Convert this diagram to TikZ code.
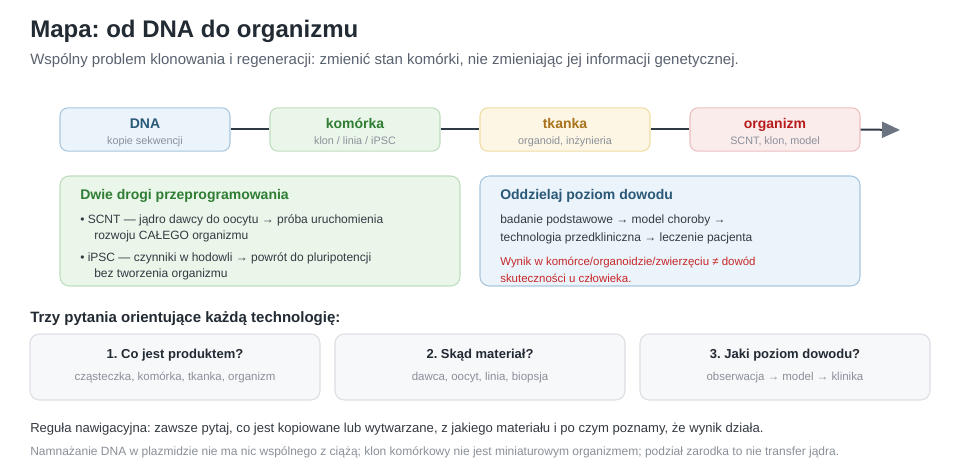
\documentclass[tikz,border=0pt]{standalone}
\usepackage{fontspec}
\setmainfont{Liberation Sans}
\usetikzlibrary{arrows.meta}
\frenchspacing
\definecolor{ink}{HTML}{222A33}
\definecolor{sub}{HTML}{5A6270}
\definecolor{mut}{HTML}{8A9099}
\definecolor{body}{HTML}{333A42}
\definecolor{line}{HTML}{2F3A45}
\definecolor{arr}{HTML}{6B7480}
\definecolor{bF}{HTML}{EBF3FB}\definecolor{bD}{HTML}{A9C7DE}\definecolor{bT}{HTML}{2A5877}
\definecolor{gF}{HTML}{EBF6EB}\definecolor{gD}{HTML}{BFDDBF}\definecolor{gT}{HTML}{2E7D32}
\definecolor{yF}{HTML}{FDF6E4}\definecolor{yD}{HTML}{F0DDA4}\definecolor{yT}{HTML}{A8731C}
\definecolor{rF}{HTML}{FBECEC}\definecolor{rD}{HTML}{EDBFBF}\definecolor{rT}{HTML}{B71C1C}
\definecolor{red2}{HTML}{C62828}
\definecolor{qF}{HTML}{F7F8FA}\definecolor{qD}{HTML}{DCDFE4}
\tikzset{
  x=0.75pt, y=-0.75pt,
  topbox/.style={draw, line width=0.8pt, rounded corners=6pt, minimum width=127.5pt, minimum height=32.5pt, inner sep=0pt},
  midbox/.style={draw, line width=0.8pt, rounded corners=7pt, minimum height=82.5pt, inner sep=0pt},
  qbox/.style={draw=qD, fill=qF, line width=0.8pt, rounded corners=7pt, minimum width=217.5pt, minimum height=49.5pt, inner sep=0pt},
  txt/.style={inner sep=0pt, anchor=base west},
  ctxt/.style={inner sep=0pt, anchor=base},
  conn/.style={draw=line, line width=1.5pt},
}
\begin{document}
\begin{tikzpicture}
\useasboundingbox[fill=white] (0,0) rectangle (960,470);
% title
\node[txt, text=ink, font=\fontsize{18}{22}\selectfont\bfseries] (title) at (30,38) {Mapa: od DNA do organizmu};
\node[txt, text=sub, font=\fontsize{11.25}{13}\selectfont] (subt) at (30,65) {Wspólny problem klonowania i regeneracji: zmienić stan komórki, nie zmieniając jej informacji genetycznej.};
% top chain
\node[topbox, fill=bF, draw=bD] (dna) at (145,129.5) {};
\node[topbox, fill=gF, draw=gD] (kom) at (355,129.5) {};
\node[topbox, fill=yF, draw=yD] (tka) at (565,129.5) {};
\node[topbox, fill=rF, draw=rD] (org) at (775,129.5) {};
\coordinate (end) at (900,130);
\draw[conn] (dna.east) -- (kom.west);
\draw[conn] (kom.east) -- (tka.west);
\draw[conn] (tka.east) -- (org.west);
\draw[conn, -{Triangle[length=13.5pt,width=12pt,color=arr]}] (org.east) -- (end);
\foreach \n/\t/\s/\c in {dna/DNA/{kopie sekwencji}/bT, kom/komórka/{klon / linia / iPSC}/gT, tka/tkanka/{organoid, inżynieria}/yT, org/organizm/{SCNT, klon, model}/rT}{
  \node[ctxt, text=\c, font=\fontsize{10.5}{12}\selectfont\bfseries] at (\n.center |- 0,128.5) {\t};
  \node[ctxt, text=mut, font=\fontsize{8.1}{10}\selectfont] at (\n.center |- 0,145) {\s};
}
% middle boxes
\node[midbox, fill=gF, draw=gD, minimum width=300pt] (left) at (260,231) {};
\node[midbox, fill=bF, draw=bD, minimum width=285pt] (right) at (670,231) {};
\node[txt, text=gT, font=\fontsize{10.5}{12}\selectfont\bfseries] (lt) at (80,200) {Dwie drogi przeprogramowania};
\begin{scope}[every node/.style={txt, text=body, font=\fontsize{9}{11}\selectfont}]
\node (l1) at (80,224) {• SCNT — jądro dawcy do oocytu → próba uruchomienia};
\node (l2) at (94,240) {rozwoju CAŁEGO organizmu};
\node (l3) at (80,262) {• iPSC — czynniki w hodowli → powrót do pluripotencji};
\node (l4) at (94,278) {bez tworzenia organizmu};
\node (r1) at (500,224) {badanie podstawowe → model choroby →};
\node (r2) at (500,242) {technologia przedkliniczna → leczenie pacjenta};
\end{scope}
\node[txt, text=bT, font=\fontsize{10.5}{12}\selectfont\bfseries] (rt) at (500,200) {Oddzielaj poziom dowodu};
\node[txt, text=red2, font=\fontsize{8.6}{10}\selectfont] (r3) at (500,266) {Wynik w komórce/organoidzie/zwierzęciu ≠ dowód};
\node[txt, text=red2, font=\fontsize{8.6}{10}\selectfont] (r4) at (500,282) {skuteczności u człowieka.};
% questions
\node[txt, text=ink, font=\fontsize{11.25}{13}\selectfont\bfseries] (qh) at (30,322) {Trzy pytania orientujące każdą technologię:};
\node[qbox] (q1) at (175,367) {};
\node[qbox] (q2) at (480,367) {};
\node[qbox] (q3) at (785,367) {};
\foreach \n/\t/\s in {q1/{1. Co jest produktem?}/{cząsteczka, komórka, tkanka, organizm}, q2/{2. Skąd materiał?}/{dawca, oocyt, linia, biopsja}, q3/{3. Jaki poziom dowodu?}/{obserwacja → model → klinika}}{
  \node[ctxt, text=ink, font=\fontsize{9.75}{12}\selectfont\bfseries] at (\n.center |- 0,358) {\t};
  \node[ctxt, text=mut, font=\fontsize{8.6}{10}\selectfont] at (\n.center |- 0,380) {\s};
}
% footer
\node[txt, text=body, font=\fontsize{9.8}{12}\selectfont] (f1) at (30,432) {Reguła nawigacyjna: zawsze pytaj, co jest kopiowane lub wytwarzane, z jakiego materiału i po czym poznamy, że wynik działa.};
\node[txt, text=mut, font=\fontsize{9}{11}\selectfont] (f2) at (30,455) {Namnażanie DNA w plazmidzie nie ma nic wspólnego z ciążą; klon komórkowy nie jest miniaturowym organizmem; podział zarodka to nie transfer jądra.};
\end{tikzpicture}
\end{document}
